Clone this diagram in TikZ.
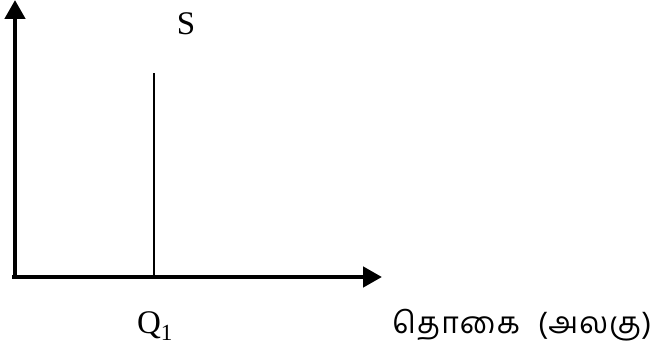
\documentclass[tikz,border=0pt]{standalone}
\usepackage{fontspec}
\setmainfont{Liberation Serif}
\newfontfamily\tamilfont[Script=Tamil,LetterSpace=4]{Hind Madurai}
\newfontfamily\labelfont{Liberation Serif}
\usetikzlibrary{arrows.meta}
\tikzset{
  axis/.style={line width=4.5pt, -{Triangle[length=19pt,width=20pt]}},
  supply/.style={line width=1.2pt},
  lbl/.style={font=\labelfont\fontsize{33}{38}\selectfont, inner sep=0pt},
  tlbl/.style={font=\tamilfont\fontsize{30}{34}\selectfont, inner sep=0pt}
}
\begin{document}
\begin{tikzpicture}[x=1pt,y=-1pt]
\useasboundingbox (0,0) rectangle (655,358);
\coordinate (O) at (15,279);
\coordinate (ytop) at (15,0);
\coordinate (xend) at (382,277);
\coordinate (orig) at (12,277);
\draw[axis] (O) -- (ytop);
\draw[axis] (orig) -- (xend);
\coordinate (sbot) at (154,277);
\coordinate (stop) at (154,73);
\draw[supply] (sbot) -- (stop);
\node[lbl] (S) at (186,24) {S};
\node[lbl] (Q) at (155,326) {Q\textsubscript{1}};
\node[tlbl, anchor=west] (T) at (392,325) {தொகை\hspace{0.6em}(அலகு)};
\end{tikzpicture}
\end{document}
